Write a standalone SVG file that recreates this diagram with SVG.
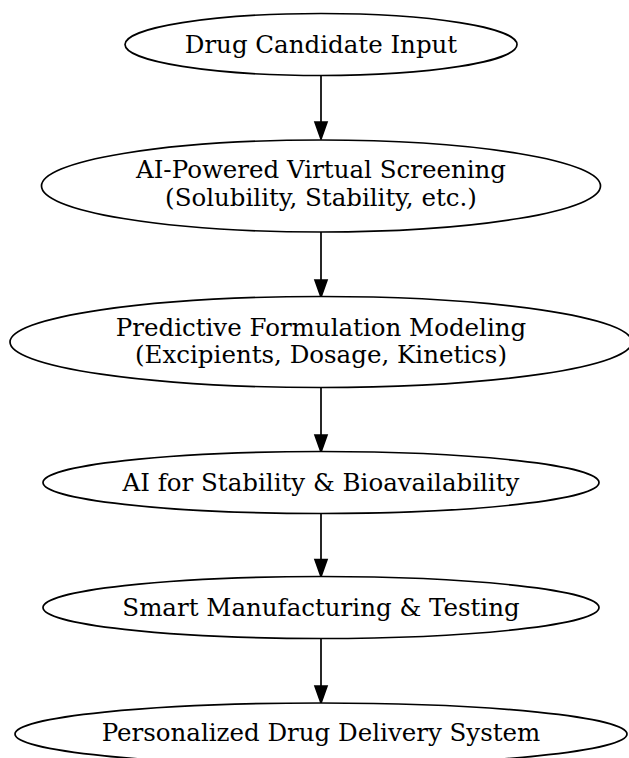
<svg xmlns="http://www.w3.org/2000/svg" width="629" height="758" viewBox="0 0 629 758">
<style>
.n ellipse{fill:#fff;stroke:#000;stroke-width:1.7}
.n text{font-family:"DejaVu Serif",serif;font-size:24.5px;text-anchor:middle;fill:#000}
.e line{stroke:#000;stroke-width:1.7}
.e polygon{fill:#000;stroke:#000;stroke-width:1.7}
</style>
<rect width="629" height="758" fill="#fff"/>
<g id="connectors" class="e">
<line x1="321" y1="75.5" x2="321" y2="122"/><polygon points="315,122 327,122 321,139"/>
<line x1="321" y1="232" x2="321" y2="280"/><polygon points="315,280 327,280 321,297"/>
<line x1="321" y1="388" x2="321" y2="435"/><polygon points="315,435 327,435 321,452"/>
<line x1="321" y1="513.5" x2="321" y2="559.5"/><polygon points="315,559.5 327,559.5 321,576.5"/>
<line x1="321" y1="639" x2="321" y2="686"/><polygon points="315,686 327,686 321,703"/>
</g>
<g id="n1" class="n"><ellipse cx="321" cy="44.5" rx="196" ry="31"/><text x="321" y="52.5">Drug Candidate Input</text></g>
<g id="n2" class="n"><ellipse cx="321" cy="186" rx="279.5" ry="46"/><text x="321" y="178">AI-Powered Virtual Screening</text><text x="321" y="206">(Solubility, Stability, etc.)</text></g>
<g id="n3" class="n"><ellipse cx="321" cy="342" rx="311" ry="45.5"/><text x="321" y="335.5">Predictive Formulation Modeling</text><text x="321" y="363">(Excipients, Dosage, Kinetics)</text></g>
<g id="n4" class="n"><ellipse cx="321" cy="482.5" rx="278" ry="31"/><text x="321" y="490.5">AI for Stability &amp; Bioavailability</text></g>
<g id="n5" class="n"><ellipse cx="321" cy="607.5" rx="278" ry="31"/><text x="321" y="615.5">Smart Manufacturing &amp; Testing</text></g>
<g id="n6" class="n"><ellipse cx="321" cy="734" rx="306" ry="31"/><text x="321" y="741">Personalized Drug Delivery System</text></g>
</svg>
